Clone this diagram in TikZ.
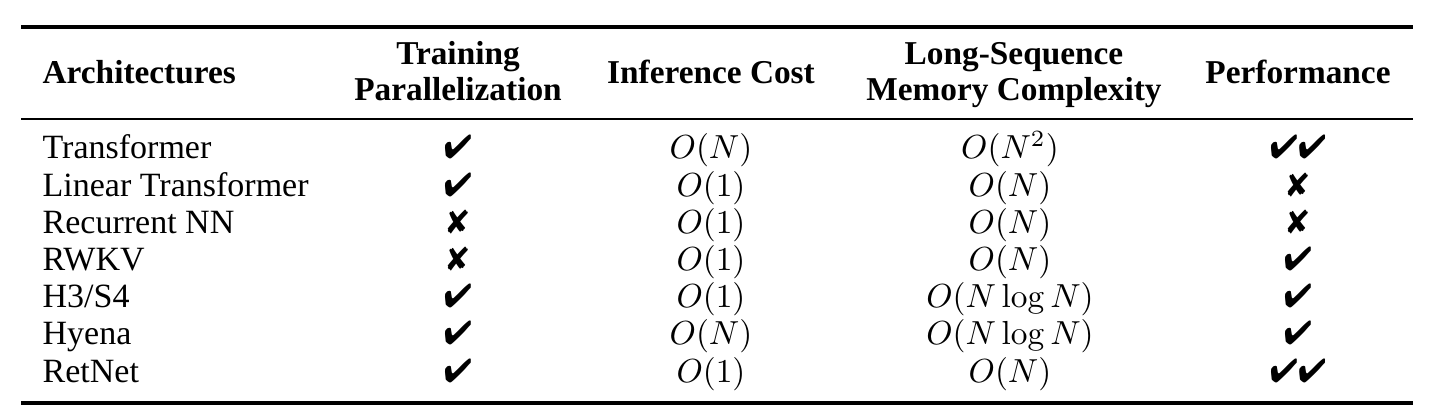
\documentclass[tikz,border=0pt]{standalone}
\usepackage[no-math]{fontspec}
\setmainfont{Liberation Serif}
\usepackage{pifont}
\usepackage{tikz}
\usetikzlibrary{positioning}

\newcommand{\yes}{\ding{52}}
\newcommand{\no}{\ding{56}}

\begin{document}
\begin{tikzpicture}[
      x=0.3pt, y=-0.3pt,
      head/.style={font={\fontsize{10}{11}\selectfont\bfseries}, align=center,
        anchor=base, inner sep=0pt},
      arch/.style={anchor=base west, inner sep=0pt, font=\fontsize{10.2}{12}\selectfont},
      cell/.style={anchor=base, inner sep=0pt, font=\fontsize{10}{12}\selectfont},
      heavyrule/.style={line width=1.2pt},
      lightrule/.style={line width=0.6pt}
    ]
      \useasboundingbox (0,0) rectangle (1439,417);

      % Rules
      \coordinate (topL) at (21,27);    \coordinate (topR) at (1413,27);
      \coordinate (midL) at (21,119.5); \coordinate (midR) at (1413,119.5);
      \coordinate (botL) at (21,403);   \coordinate (botR) at (1413,403);
      \draw[heavyrule] (topL) -- (topR);
      \draw[lightrule] (midL) -- (midR);
      \draw[heavyrule] (botL) -- (botR);

      % Header (two-line nodes sit on their last line)
      \node[head, anchor=base west] (hArch) at (42,83.5) {Architectures};
      \node[head] (hTrain) at (458,101) {Training\\Parallelization};
      \node[head] (hInf) at (711,83.5) {Inference Cost};
      \node[head] (hMem) at (1014,101) {Long-Sequence\\Memory Complexity};
      \node[head] (hPerf) at (1298,83.5) {Performance};

      % Transformer
      \node[arch] (aTrans) at (42,159) {Transformer};
      \node[cell] (tTrans) at (458,159) {\yes};
      \node[cell] (iTrans) at (711,159) {$O(N)$};
      \node[cell] (mTrans) at (1010,159) {$O(N^2)$};
      \node[cell] (pTrans) at (1298,159) {\yes\yes};

      % Linear Transformer
      \node[arch] (aLin) at (42,196.2) {Linear Transformer};
      \node[cell] (tLin) at (458,196.2) {\yes};
      \node[cell] (iLin) at (711,196.2) {$O(1)$};
      \node[cell] (mLin) at (1010,196.2) {$O(N)$};
      \node[cell] (pLin) at (1298,196.2) {\no};

      % Recurrent NN
      \node[arch] (aRnn) at (42,233.4) {Recurrent NN};
      \node[cell] (tRnn) at (458,233.4) {\no};
      \node[cell] (iRnn) at (711,233.4) {$O(1)$};
      \node[cell] (mRnn) at (1010,233.4) {$O(N)$};
      \node[cell] (pRnn) at (1298,233.4) {\no};

      % RWKV
      \node[arch] (aRwkv) at (42,270.6) {RWKV};
      \node[cell] (tRwkv) at (458,270.6) {\no};
      \node[cell] (iRwkv) at (711,270.6) {$O(1)$};
      \node[cell] (mRwkv) at (1010,270.6) {$O(N)$};
      \node[cell] (pRwkv) at (1298,270.6) {\yes};

      % H3/S4
      \node[arch] (aHs) at (42,307.8) {H3/S4};
      \node[cell] (tHs) at (458,307.8) {\yes};
      \node[cell] (iHs) at (711,307.8) {$O(1)$};
      \node[cell] (mHs) at (1010,307.8) {$O(N\log N)$};
      \node[cell] (pHs) at (1298,307.8) {\yes};

      % Hyena
      \node[arch] (aHy) at (42,345) {Hyena};
      \node[cell] (tHy) at (458,345) {\yes};
      \node[cell] (iHy) at (711,345) {$O(N)$};
      \node[cell] (mHy) at (1010,345) {$O(N\log N)$};
      \node[cell] (pHy) at (1298,345) {\yes};

      % RetNet
      \node[arch] (aRet) at (42,382.2) {RetNet};
      \node[cell] (tRet) at (458,382.2) {\yes};
      \node[cell] (iRet) at (711,382.2) {$O(1)$};
      \node[cell] (mRet) at (1010,382.2) {$O(N)$};
      \node[cell] (pRet) at (1298,382.2) {\yes\yes};
    \end{tikzpicture}
\end{document}
